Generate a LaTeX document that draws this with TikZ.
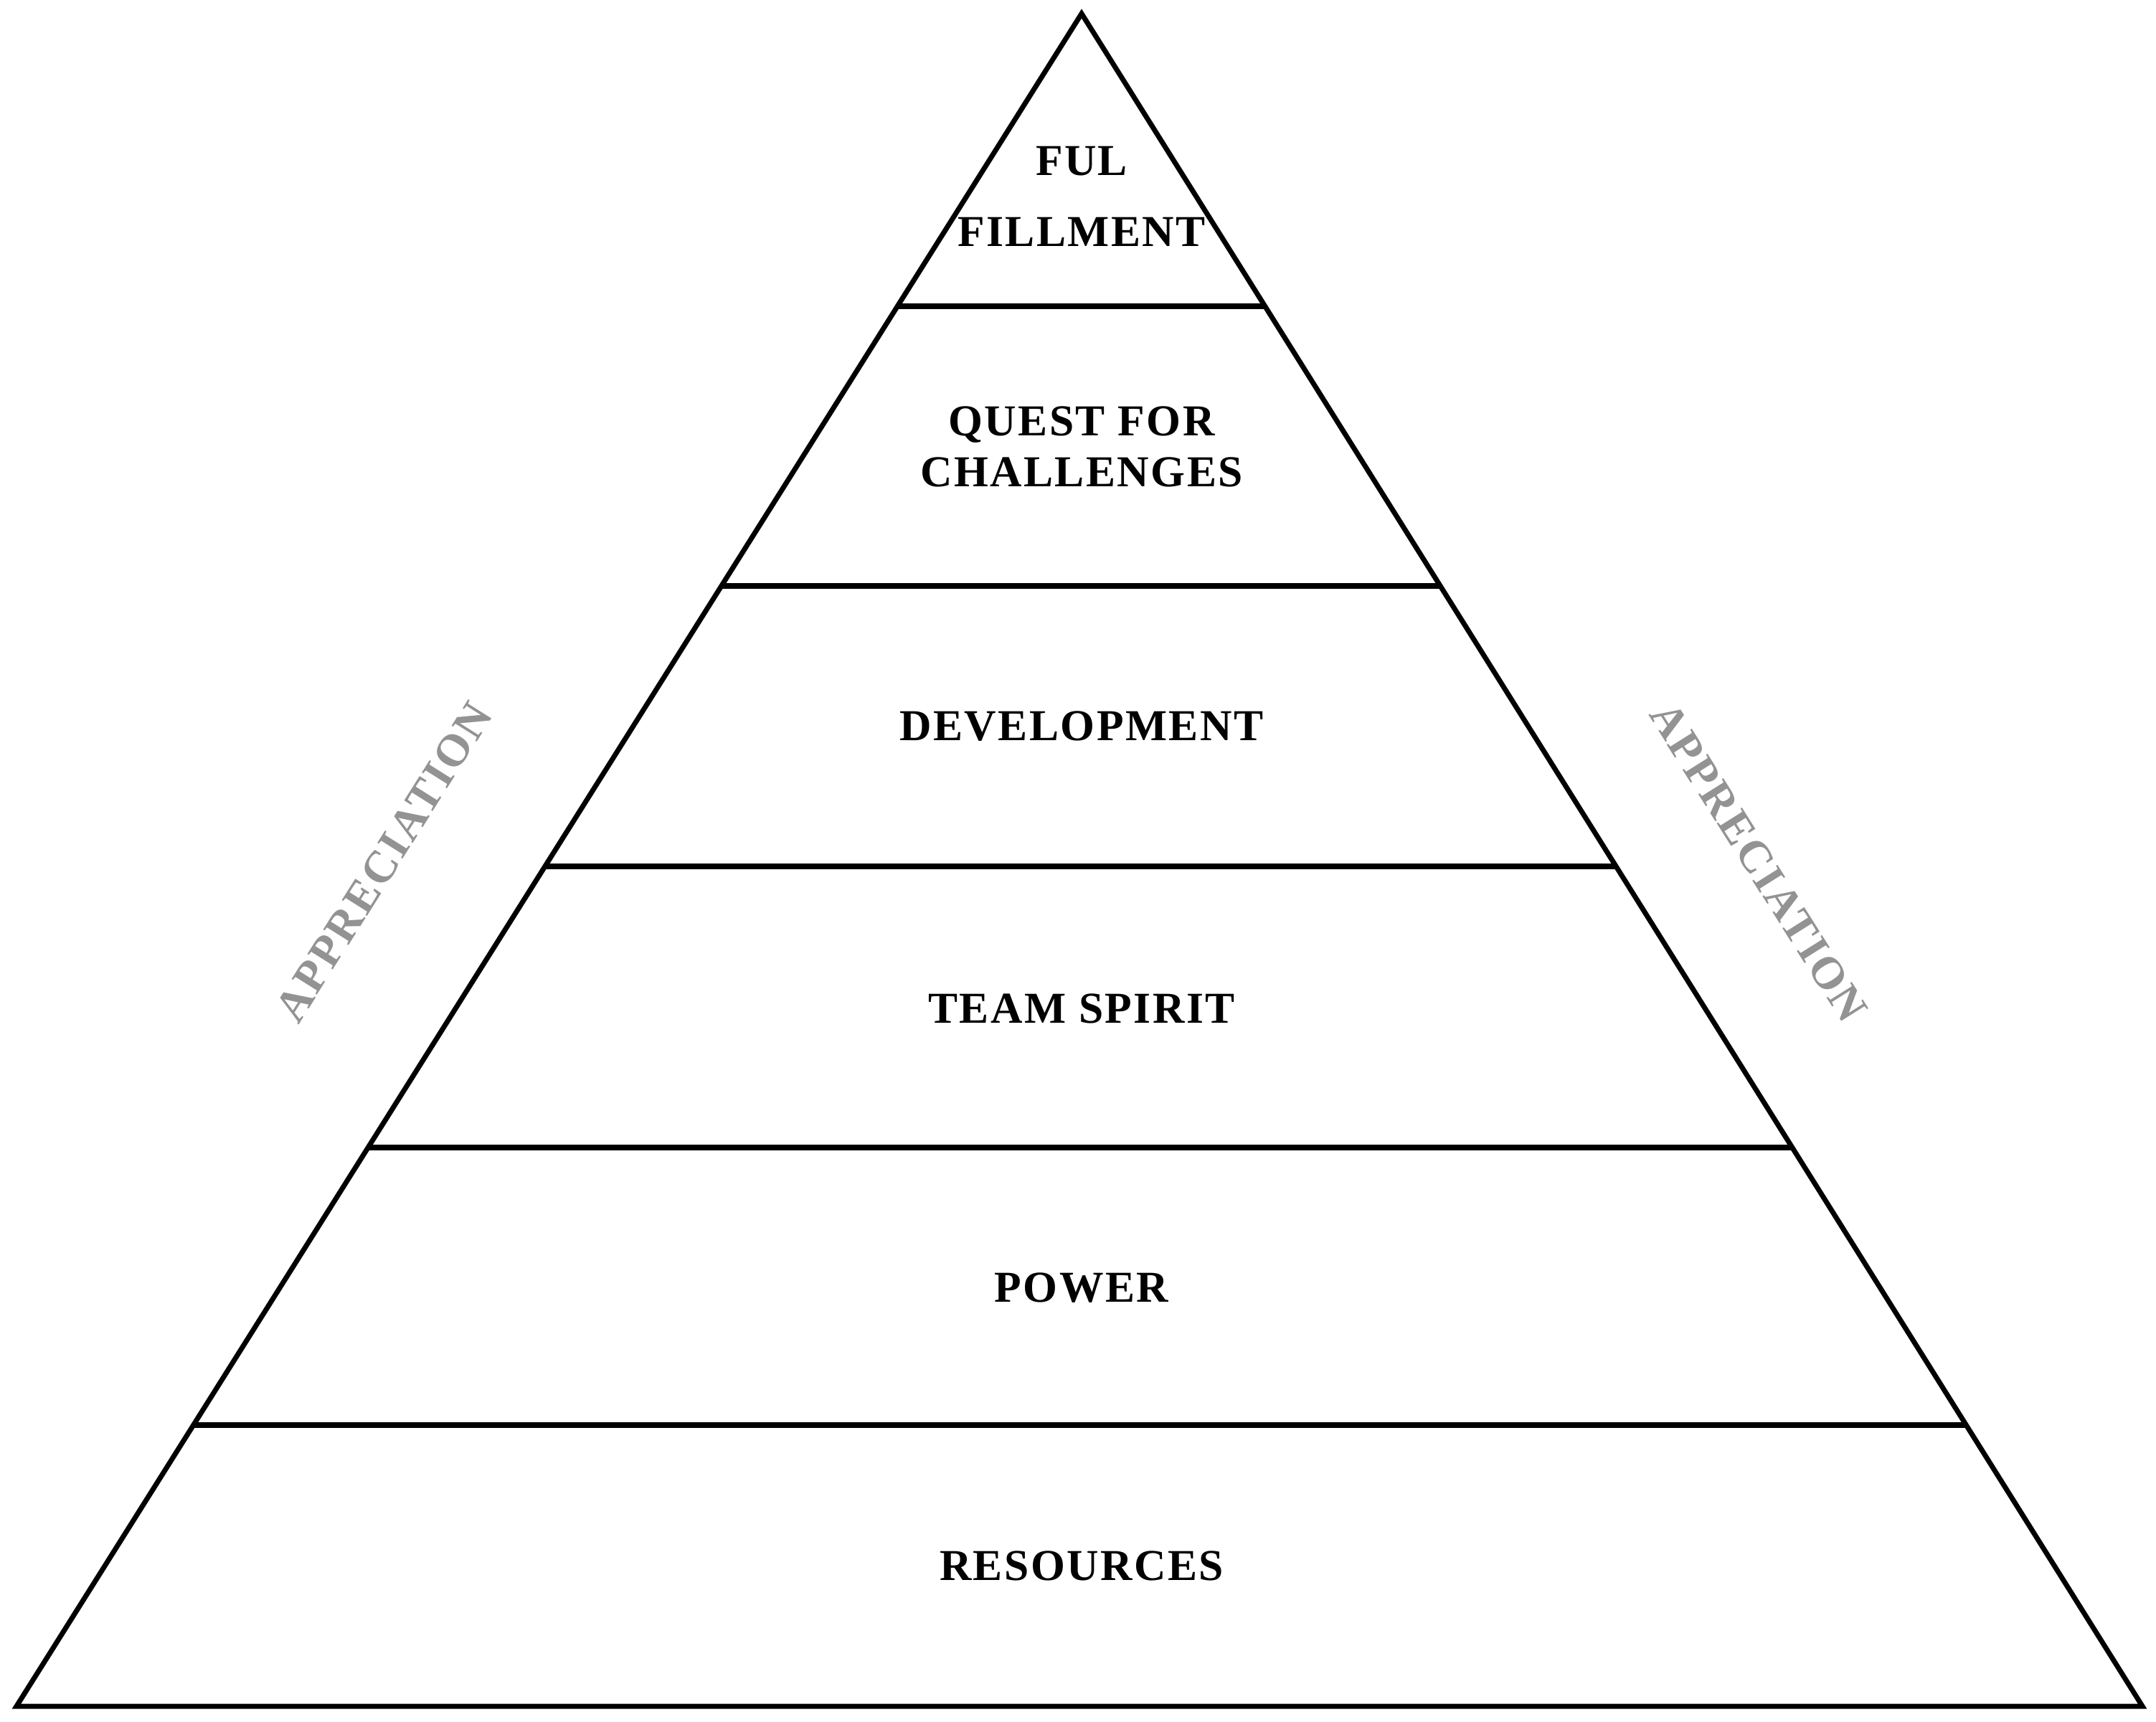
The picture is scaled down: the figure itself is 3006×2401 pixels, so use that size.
\documentclass[tikz,border=0pt]{standalone}
\usepackage{fontspec}
\setmainfont{Liberation Serif}
\newfontfamily\spaced[LetterSpace=4]{Liberation Serif}
\begin{document}
\begin{tikzpicture}[x=0.01cm,y=-0.01cm,
  lbl/.style={font=\spaced\bfseries\fontsize{17.5}{20}\selectfont, align=center, inner sep=0pt},
  side/.style={font=\spaced\bfseries\fontsize{18}{20}\selectfont, text=gray!85, inner sep=0pt},
  edge/.style={line width=2pt}]
\useasboundingbox (0,0) rectangle (3006,2401);
\coordinate (apex) at (1508,19);
\coordinate (bl) at (23,2379);
\coordinate (br) at (2987,2379);
\begin{scope}
\clip (apex) -- (bl) -- (br) -- cycle;
\foreach \yy in {427,817,1208,1600,1987}
  \draw[edge] (0,\yy) -- (3006,\yy);
\end{scope}
\draw[edge, line join=miter] (apex) -- (bl) -- (br) -- cycle;
\node[lbl] (t1) at (1508,274) {FUL\\[8pt]FILLMENT};
\node[lbl] (t2) at (1508,623) {QUEST FOR\\CHALLENGES};
\node[lbl] (t3) at (1508,1013) {DEVELOPMENT};
\node[lbl] (t4) at (1508,1406) {TEAM SPIRIT};
\node[lbl] (t5) at (1508,1796) {POWER};
\node[lbl] (t6) at (1508,2183) {RESOURCES};
\node[side, rotate=57.8] (a1) at (535,1202) {APPRECIATION};
\node[side, rotate=-57.8] (a2) at (2452,1202) {APPRECIATION};
\end{tikzpicture}
\end{document}
